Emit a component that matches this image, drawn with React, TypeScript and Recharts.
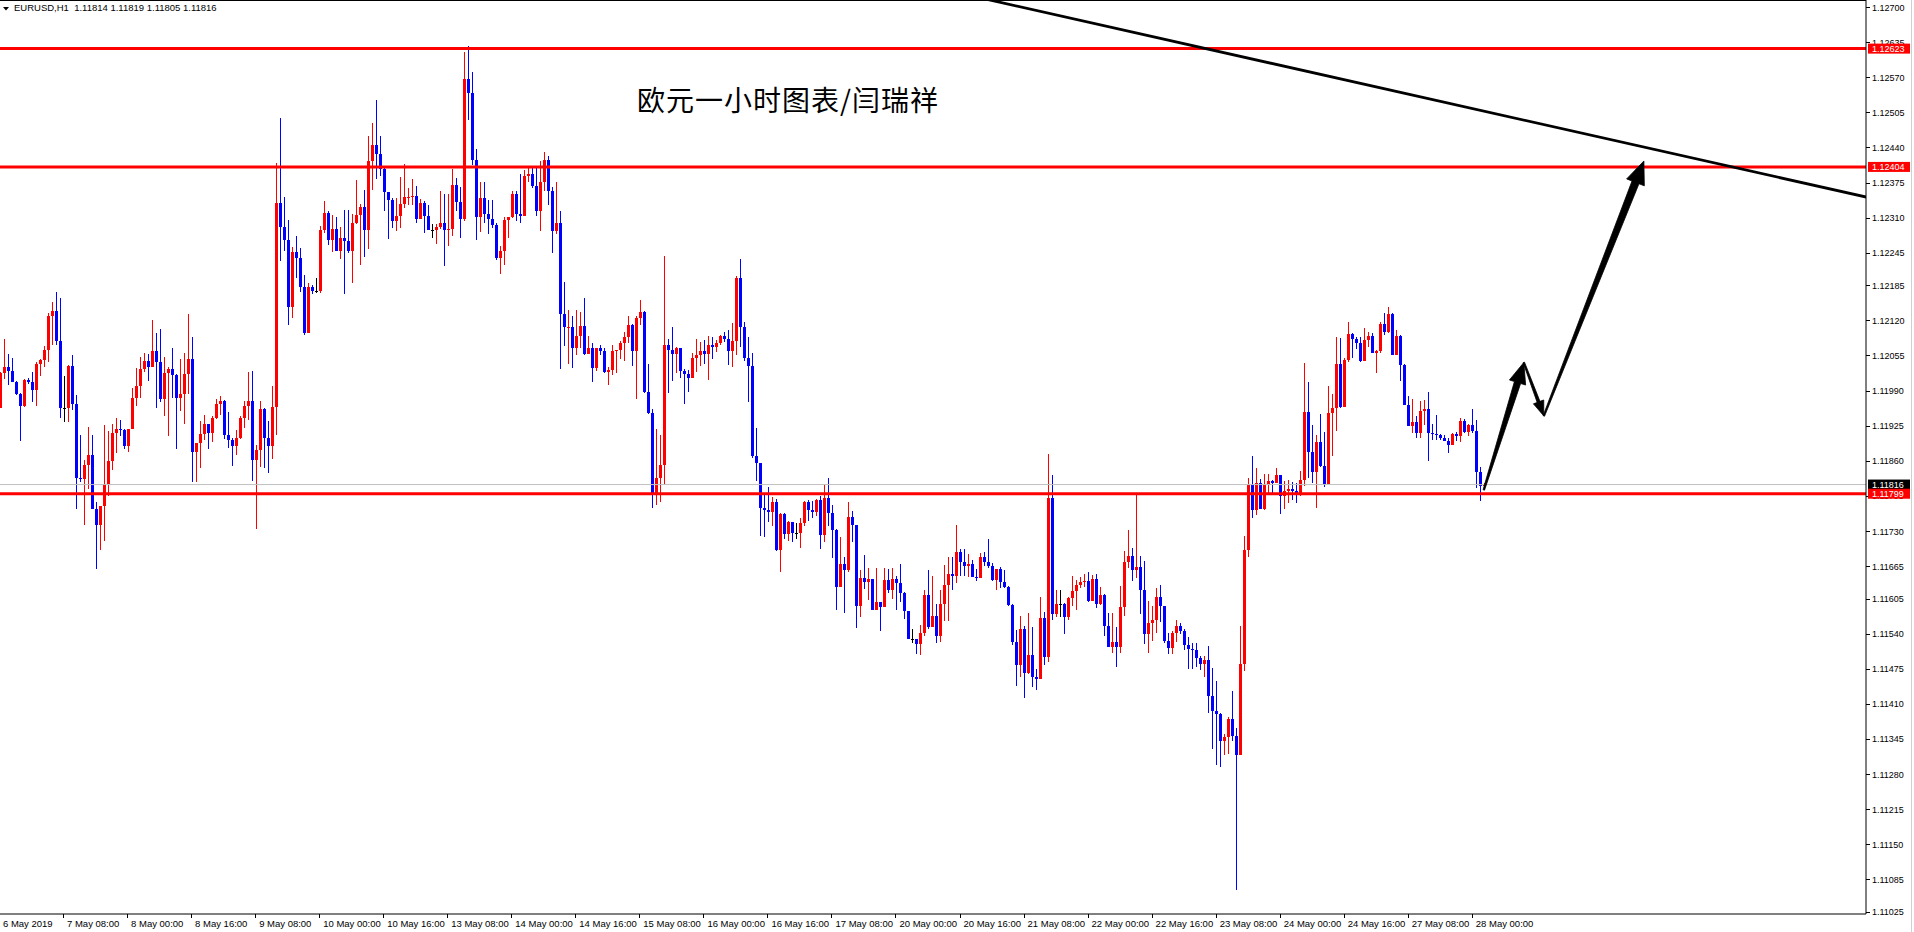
import React from 'react';
import { ComposedChart, Bar, XAxis, YAxis, ReferenceLine } from 'recharts';

const SYMBOL = 'EURUSD,H1';
const TITLE = '欧元一小时图表/闫瑞祥';

// H1 candles from 6 May 16:00 to 28 May 03:00, in points above 1.11000 (1 pt = 0.00001)
const BASE = 1.11;
const FIRST_OPEN = 957;
const CLOSE = [
  1022, 1033, 1027, 1006, 984, 961, 1009, 1005, 991, 1039,
  1047, 1065, 1128, 1137, 1082, 957, 957, 1035, 965, 828,
  826, 852, 871, 771, 741, 776, 817, 860, 911, 918,
  917, 887, 918, 976, 998, 1030, 1045, 1034, 1063, 1043,
  975, 1022, 1030, 1019, 977, 984, 1021, 1048, 877, 892,
  910, 928, 912, 940, 966, 971, 907, 899, 888, 902,
  940, 961, 971, 861, 880, 956, 903, 888, 959, 1337,
  1292, 1269, 1145, 1246, 1236, 1182, 1097, 1181, 1175, 1175,
  1287, 1318, 1269, 1289, 1249, 1272, 1266, 1249, 1301, 1315,
  1330, 1287, 1415, 1445, 1428, 1401, 1358, 1342, 1304, 1314,
  1335, 1348, 1349, 1350, 1308, 1337, 1314, 1288, 1288, 1293,
  1300, 1288, 1289, 1371, 1339, 1308, 1567, 1540, 1417, 1311,
  1346, 1316, 1308, 1297, 1235, 1248, 1306, 1312, 1354, 1317,
  1314, 1388, 1390, 1369, 1323, 1376, 1417, 1359, 1286, 1300,
  1132, 1107, 1108, 1069, 1091, 1110, 1058, 1069, 1032, 1069,
  1064, 1025, 1028, 1063, 1065, 1078, 1089, 1111, 1064, 1124,
  1136, 988, 949, 800, 829, 852, 1074, 1065, 1057, 1069,
  1027, 1020, 1014, 1050, 1055, 1063, 1058, 1074, 1071, 1078,
  1091, 1086, 1064, 1082, 1199, 1107, 1051, 1036, 869, 855,
  773, 769, 765, 784, 695, 762, 725, 746, 726, 726,
  744, 784, 769, 765, 787, 723, 791, 763, 732, 626,
  669, 658, 756, 742, 591, 643, 636, 641, 584, 598,
  590, 640, 620, 641, 633, 615, 581, 530, 530, 521,
  541, 612, 553, 572, 536, 595, 630, 651, 646, 691,
  673, 666, 669, 644, 643, 682, 673, 665, 639, 660,
  636, 627, 593, 525, 482, 549, 467, 501, 459, 456,
  569, 496, 791, 576, 595, 595, 570, 606, 619, 630,
  635, 638, 601, 641, 595, 612, 555, 516, 525, 516,
  590, 672, 684, 657, 664, 620, 540, 559, 566, 608,
  591, 526, 514, 542, 554, 545, 519, 511, 509, 495,
  484, 492, 424, 396, 391, 342, 349, 382, 350, 315,
  483, 695, 815, 768, 818, 771, 815, 823, 818, 834,
  794, 804, 807, 804, 801, 825, 950, 877, 839, 894,
  850, 817, 948, 957, 1039, 960, 1047, 1095, 1085, 1078,
  1045, 1084, 1091, 1060, 1064, 1113, 1099, 1132, 1056, 1091,
  1037, 963, 924, 932, 912, 952, 956, 912, 909, 907,
  902, 896, 889, 910, 906, 934, 914, 926, 915, 840,
  814, 816,
];
const HIGH = [
  1024, 1085, 1058, 1051, 1007, 985, 1012, 1013, 1024, 1043,
  1048, 1073, 1133, 1154, 1172, 1161, 1017, 1038, 1056, 981,
  908, 862, 923, 908, 784, 776, 926, 915, 928, 939,
  935, 918, 918, 995, 1032, 1052, 1059, 1058, 1121, 1096,
  1104, 1052, 1033, 1069, 1020, 1048, 1060, 1132, 1090, 893,
  934, 945, 928, 943, 974, 979, 972, 951, 902, 917,
  943, 971, 1024, 1026, 889, 971, 958, 934, 998, 1412,
  1495, 1348, 1306, 1255, 1276, 1253, 1204, 1190, 1185, 1198,
  1295, 1341, 1323, 1315, 1311, 1292, 1325, 1324, 1316, 1379,
  1335, 1361, 1462, 1486, 1528, 1462, 1403, 1358, 1346, 1346,
  1385, 1409, 1365, 1382, 1369, 1344, 1340, 1334, 1298, 1298,
  1359, 1354, 1354, 1401, 1383, 1367, 1617, 1627, 1580, 1437,
  1376, 1376, 1343, 1342, 1300, 1257, 1311, 1312, 1360, 1359,
  1391, 1399, 1403, 1402, 1402, 1415, 1432, 1425, 1366, 1377,
  1322, 1191, 1139, 1128, 1140, 1136, 1161, 1091, 1078, 1069,
  1074, 1068, 1033, 1074, 1066, 1082, 1098, 1128, 1113, 1128,
  1158, 1137, 1039, 955, 919, 908, 1239, 1086, 1107, 1071,
  1069, 1030, 1028, 1060, 1086, 1080, 1083, 1091, 1089, 1084,
  1093, 1099, 1102, 1115, 1202, 1234, 1116, 1089, 1059, 920,
  855, 798, 812, 793, 790, 764, 764, 749, 747, 744,
  754, 786, 788, 786, 789, 794, 815, 828, 779, 733,
  718, 681, 784, 767, 742, 658, 686, 661, 641, 661,
  598, 661, 660, 661, 647, 669, 618, 582, 548, 531,
  556, 620, 657, 647, 595, 621, 667, 681, 681, 741,
  696, 697, 688, 676, 659, 689, 691, 715, 671, 660,
  663, 658, 629, 595, 546, 573, 554, 579, 553, 474,
  607, 580, 873, 834, 621, 621, 596, 607, 647, 639,
  644, 651, 655, 649, 651, 627, 614, 578, 578, 553,
  629, 693, 731, 698, 799, 684, 675, 600, 592, 625,
  630, 591, 542, 545, 566, 559, 549, 533, 523, 523,
  498, 498, 518, 476, 453, 393, 355, 386, 433, 365,
  555, 720, 828, 868, 846, 827, 835, 835, 825, 846,
  834, 823, 825, 820, 818, 841, 1041, 1005, 927, 908,
  947, 913, 999, 983, 1090, 1088, 1050, 1116, 1097, 1090,
  1090, 1106, 1099, 1097, 1065, 1116, 1134, 1145, 1134, 1103,
  1093, 1039, 979, 974, 943, 971, 973, 987, 928, 945,
  910, 908, 903, 911, 914, 939, 937, 928, 956, 936,
  849, 819,
];
const LOW = [
  957, 1011, 1000, 1006, 982, 897, 959, 1002, 969, 961,
  1017, 1033, 1043, 1074, 1074, 939, 931, 932, 954, 771,
  821, 742, 808, 770, 660, 695, 712, 794, 843, 875,
  906, 882, 876, 919, 961, 976, 1025, 1008, 1033, 957,
  969, 943, 906, 976, 882, 953, 928, 984, 821, 821,
  847, 899, 882, 895, 937, 945, 900, 884, 851, 870,
  900, 920, 936, 823, 734, 849, 847, 838, 863, 907,
  1230, 1249, 1111, 1124, 1199, 1173, 1092, 1127, 1169, 1171,
  1171, 1281, 1260, 1247, 1249, 1234, 1169, 1244, 1190, 1298,
  1222, 1238, 1252, 1361, 1382, 1388, 1323, 1271, 1290, 1286,
  1291, 1328, 1334, 1334, 1300, 1308, 1282, 1288, 1272, 1261,
  1289, 1220, 1258, 1277, 1323, 1272, 1304, 1490, 1408, 1269,
  1283, 1300, 1279, 1291, 1232, 1206, 1223, 1272, 1309, 1303,
  1300, 1314, 1376, 1365, 1314, 1286, 1360, 1334, 1245, 1279,
  1030, 1073, 1039, 1032, 1056, 1069, 1056, 1058, 1005, 1027,
  1056, 1022, 1001, 1019, 1023, 1049, 1045, 1078, 1036, 975,
  1112, 985, 947, 772, 778, 784, 816, 986, 1008, 1023,
  1013, 965, 988, 1013, 1024, 1036, 1039, 1010, 1049, 1061,
  1074, 1080, 1037, 1034, 1056, 1071, 1045, 968, 865, 823,
  720, 718, 747, 739, 693, 655, 715, 712, 709, 715,
  698, 739, 749, 754, 757, 697, 709, 739, 680, 583,
  626, 579, 655, 709, 551, 570, 622, 602, 584, 583,
  544, 590, 615, 605, 584, 599, 567, 530, 522, 502,
  501, 536, 548, 553, 523, 525, 564, 564, 621, 634,
  646, 647, 644, 644, 638, 653, 666, 661, 638, 621,
  625, 624, 591, 519, 443, 459, 420, 465, 442, 436,
  456, 482, 488, 565, 570, 570, 539, 565, 592, 583,
  624, 627, 599, 601, 587, 593, 535, 516, 504, 479,
  504, 572, 662, 637, 643, 577, 520, 504, 527, 541,
  561, 523, 502, 502, 525, 539, 509, 474, 474, 478,
  473, 459, 394, 327, 297, 293, 316, 318, 341, 66,
  318, 470, 681, 754, 759, 771, 769, 798, 801, 818,
  762, 771, 782, 787, 782, 795, 813, 829, 818, 773,
  849, 812, 817, 868, 915, 957, 960, 1042, 1050, 1067,
  1042, 1079, 1071, 1060, 1023, 1060, 1093, 1097, 1056, 1056,
  1008, 963, 924, 912, 903, 902, 926, 860, 899, 899,
  899, 896, 875, 890, 896, 894, 911, 905, 911, 809,
  786, 805,
];

const DATE_LABELS = [
  '6 May 2019', '7 May 08:00', '8 May 00:00', '8 May 16:00', '9 May 08:00', '10 May 00:00',
  '10 May 16:00', '13 May 08:00', '14 May 00:00', '14 May 16:00', '15 May 08:00', '16 May 00:00',
  '16 May 16:00', '17 May 08:00', '20 May 00:00', '20 May 16:00', '21 May 08:00', '22 May 00:00',
  '22 May 16:00', '23 May 08:00', '24 May 00:00', '24 May 16:00', '27 May 08:00', '28 May 00:00',
];
const BARS_PER_LABEL = 16;
const EMPTY_SLOTS = 95;

const PRICE_TICKS = [
  1.127, 1.12635, 1.1257, 1.12505, 1.1244, 1.12375, 1.1231, 1.12245, 1.12185, 1.1212,
  1.12055, 1.1199, 1.11925, 1.1186, 1.11795, 1.1173, 1.11665, 1.11605, 1.1154, 1.11475,
  1.1141, 1.11345, 1.1128, 1.11215, 1.1115, 1.11085, 1.11025,
];
const LEVELS = [1.12623, 1.12404, 1.11799];
const TREND = [[248, 1.127123], [466, 1.123491]];
const ARROW_PATH = [[371, 1.11806], [381, 1.12042], [386, 1.11943], [411, 1.12415]];

const toPrice = (p: number) => +(BASE + p / 100000).toFixed(5);
const fmt = (v: number) => v.toFixed(5);

const candles = CLOSE.map((c, i) => {
  // hourly forex bars open where the previous one closed
  const o = i === 0 ? FIRST_OPEN : CLOSE[i - 1];
  const h = Math.max(HIGH[i], o, c);
  const l = Math.min(LOW[i], o, c);
  return { i, o: toPrice(o), h: toPrice(h), l: toPrice(l), c: toPrice(c), range: [toPrice(l), toPrice(h)] };
});
const data: any[] = [
  ...candles,
  ...Array.from({ length: EMPTY_SLOTS }, (_, k) => ({ i: CLOSE.length + k, range: null })),
];
const BID = candles[candles.length - 1].c;
const TICK_INDEX = DATE_LABELS.map((_, k) => k * BARS_PER_LABEL);

const FONT = "'Liberation Sans', Arial, sans-serif";
const UP = '#ff0000';
const DOWN = '#0000ff';

const Candle = (props: any) => {
  const { x, width, payload } = props;
  let { y, height } = props;
  if (!payload || payload.o == null || height == null || isNaN(height)) return <g />;
  if (height < 0) { y += height; height = -height; }
  const { o, h, l, c } = payload;
  const k = h > l ? height / (h - l) : 0;
  const py = (v: number) => y + (h - v) * k;
  const cx = Math.round(x + width / 2);
  const color = c > o ? UP : c < o ? DOWN : '#000000';
  const top = Math.round(py(Math.max(o, c)));
  const bot = Math.round(py(Math.min(o, c)));
  const wt = Math.round(y);
  const wb = Math.round(y + height);
  return (
    <g shapeRendering="crispEdges">
      <rect x={cx} y={wt} width={1} height={Math.max(1, wb - wt)} fill={color} />
      <rect x={cx - 1} y={top} width={3} height={Math.max(1, bot - top)} fill={color} />
    </g>
  );
};

const PriceTick = (props: any) => {
  const { x, y, payload } = props;
  const v = payload.value;
  const box = LEVELS.includes(v) ? UP : v === BID ? '#000000' : null;
  if (box) {
    return (
      <g>
        <rect x={x + 2} y={y - 5} width={42} height={10} fill={box} />
        <text x={x + 6} y={y + 3.5} fill="#ffffff" fontSize={9} fontFamily={FONT}>{fmt(v)}</text>
      </g>
    );
  }
  return (
    <g>
      <line x1={x} x2={x + 4} y1={Math.round(y) + 0.5} y2={Math.round(y) + 0.5} stroke="#000" />
      <text x={x + 6} y={y + 3.5} fill="#000" fontSize={9} fontFamily={FONT}>{fmt(v)}</text>
    </g>
  );
};

const TimeTick = (props: any) => {
  const { x, y, payload } = props;
  const idx = TICK_INDEX.indexOf(payload.value);
  if (idx < 0) return <g />;
  const first = idx === 0;
  const lx = Math.round(x) + 0.5;
  return (
    <g>
      {!first && <line x1={lx} x2={lx} y1={y} y2={y + 4} stroke="#000" />}
      <text x={first ? x + 4 : x + 4} y={y + 13} fill="#000" fontSize={9.5} fontFamily={FONT}>
        {DATE_LABELS[idx]}
      </text>
    </g>
  );
};

const TrendShape = (props: any) => {
  const { x1, y1, x2, y2, clipPath } = props;
  const dx = x2 - x1;
  const dy = y2 - y1;
  const len = Math.hypot(dx, dy) || 1;
  const e = 400;
  return (
    <g clipPath={clipPath}>
      <line
        x1={x1 - (dx / len) * e} y1={y1 - (dy / len) * e}
        x2={x2 + (dx / len) * e} y2={y2 + (dy / len) * e}
        stroke="#000" strokeWidth={2.8}
      />
    </g>
  );
};

const makeArrow = (tail: number, neck: number, headLen: number, headHalf: number) => (props: any) => {
  const { x1, y1, x2, y2 } = props;
  const dx = x2 - x1;
  const dy = y2 - y1;
  const len = Math.hypot(dx, dy) || 1;
  const ux = dx / len;
  const uy = dy / len;
  const nx = -uy;
  const ny = ux;
  const bx = x2 - ux * headLen;
  const by = y2 - uy * headLen;
  const pts = [
    [x1 + (nx * tail) / 2, y1 + (ny * tail) / 2],
    [bx + (nx * neck) / 2, by + (ny * neck) / 2],
    [bx + nx * headHalf, by + ny * headHalf],
    [x2, y2],
    [bx - nx * headHalf, by - ny * headHalf],
    [bx - (nx * neck) / 2, by - (ny * neck) / 2],
    [x1 - (nx * tail) / 2, y1 - (ny * tail) / 2],
  ];
  return <polygon points={pts.map((p) => p.join(',')).join(' ')} fill="#000" stroke="#000" strokeWidth={0.8} />;
};

const ARROW_SHAPES = [makeArrow(1.5, 6.5, 21, 8.5), makeArrow(1.5, 3, 15, 5.5), makeArrow(1.5, 7.5, 23, 9.5)];

export default function App() {
  const last = candles[candles.length - 1];
  const header = `${SYMBOL}  ${fmt(last.o)} ${fmt(last.h)} ${fmt(last.l)} ${fmt(last.c)}`;
  return (
    <div style={{ position: 'absolute', left: 0, top: 0, width: 1914, height: 932, overflow: 'hidden', background: '#fff' }}>
      <div style={{ position: 'absolute', left: -3, top: 0 }}>
        <ComposedChart width={1917} height={932} data={data} margin={{ top: 0, right: 0, bottom: 0, left: 0 }}>
          <XAxis
            dataKey="i"
            type="category"
            ticks={TICK_INDEX}
            interval={0}
            height={18}
            tickSize={0}
            tickMargin={0}
            tickLine={false}
            axisLine={{ stroke: '#000' }}
            tick={(p: any) => <TimeTick {...p} />}
          />
          <YAxis
            orientation="right"
            type="number"
            width={48}
            domain={[1.11021, 1.12713]}
            allowDataOverflow
            ticks={[...PRICE_TICKS, BID, ...LEVELS]}
            interval={0}
            tickSize={0}
            tickMargin={0}
            tickLine={false}
            axisLine={{ stroke: '#000' }}
            tick={(p: any) => <PriceTick {...p} />}
          />
          <ReferenceLine y={BID} stroke="#c0c0c0" strokeWidth={1} />
          <Bar dataKey="range" barSize={3} isAnimationActive={false} shape={(p: any) => <Candle {...p} />} />
          {LEVELS.map((v) => (
            <ReferenceLine key={v} y={v} stroke={UP} strokeWidth={3} />
          ))}
          <ReferenceLine
            segment={[{ x: TREND[0][0], y: TREND[0][1] }, { x: TREND[1][0], y: TREND[1][1] }]}
            ifOverflow="hidden"
            shape={(p: any) => <TrendShape {...p} />}
          />
          {ARROW_SHAPES.map((shape, k) => (
            <ReferenceLine
              key={`arrow-${k}`}
              segment={[
                { x: ARROW_PATH[k][0], y: ARROW_PATH[k][1] },
                { x: ARROW_PATH[k + 1][0], y: ARROW_PATH[k + 1][1] },
              ]}
              ifOverflow="visible"
              shape={shape}
            />
          ))}
        </ComposedChart>
      </div>
      <div style={{ position: 'absolute', left: 0, top: 0, width: 1866, height: 1, background: '#000' }} />
      <div style={{ position: 'absolute', left: 1911, top: 0, width: 1, height: 932, background: '#d0d0d0' }} />
      <svg style={{ position: 'absolute', left: 3, top: 7 }} width={6} height={4}>
        <polygon points="0,0 6,0 3,3.5" fill="#000" />
      </svg>
      <div style={{ position: 'absolute', left: 14, top: 2, fontFamily: FONT, fontSize: 9.5, lineHeight: '12px', whiteSpace: 'pre', color: '#000' }}>
        {header}
      </div>
      <div
        style={{
          position: 'absolute', left: 637, top: 85, fontFamily: "'Noto Sans CJK SC', sans-serif",
          fontSize: 28, lineHeight: '28px', letterSpacing: 1, color: '#000', whiteSpace: 'nowrap',
        }}
      >
        {TITLE}
      </div>
    </div>
  );
}
